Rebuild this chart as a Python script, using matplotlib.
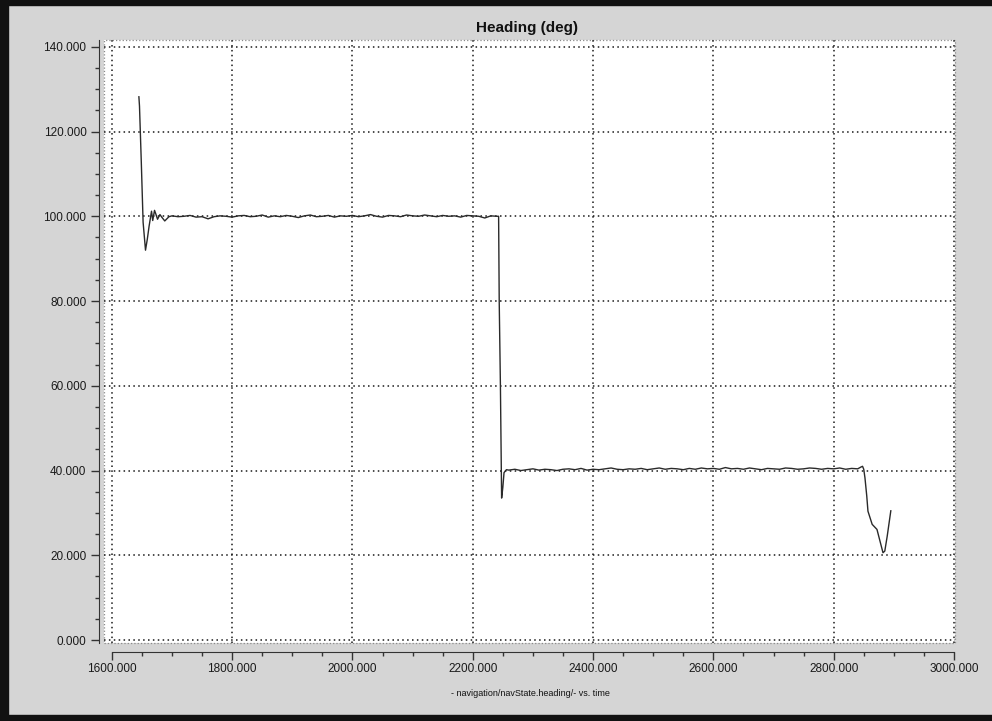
import matplotlib
matplotlib.use("Agg")
import matplotlib.pyplot as plt
from matplotlib.patches import Rectangle
from matplotlib.ticker import MultipleLocator, FormatStrFormatter

plt.rcParams['font.family'] = ['Liberation Sans', 'DejaVu Sans']

# heading samples (deg)
t_start = [1645, 1646, 1649, 1652, 1656, 1659, 1662, 1666, 1668, 1671,
           1673, 1676, 1680, 1683, 1688, 1695]
h_start = [128.2, 126.0, 112.8, 98.6, 92.0, 94.6, 97.7, 101.2, 99.0, 101.4,
           100.6, 99.3, 100.4, 99.8, 98.9, 99.9]

t_plateau1 = list(range(1700, 2250, 10))
h_plateau1 = [100.1, 99.9, 100.0, 100.2, 99.8, 99.9, 99.4, 99.9, 100.1, 100.0,
              99.8, 100.1, 100.2, 99.9, 100.0, 100.3, 99.8, 100.1, 99.9, 100.2,
              100.0, 99.7, 100.1, 100.3, 99.9, 100.0, 100.2, 99.8, 100.1, 100.0,
              100.2, 99.9, 100.1, 100.4, 100.0, 99.8, 100.2, 100.1, 99.9, 100.3,
              100.1, 100.0, 100.3, 100.1, 99.9, 100.2, 100.0, 100.1, 99.8, 100.2,
              100.1, 100.0, 99.6, 100.1, 100.0]

t_turn = [2243, 2244, 2246, 2248, 2250, 2252, 2256]
h_turn = [100.0, 80.0, 60.0, 33.5, 36.0, 39.5, 40.2]

t_plateau2 = list(range(2260, 2850, 10))
h_plateau2 = [40.1, 40.3, 40.0, 40.2, 40.4, 40.1, 40.3, 40.2, 40.0, 40.3,
              40.4, 40.2, 40.5, 40.1, 40.3, 40.2, 40.4, 40.6, 40.3, 40.2,
              40.4, 40.3, 40.5, 40.2, 40.4, 40.6, 40.3, 40.5, 40.4, 40.2,
              40.5, 40.3, 40.6, 40.4, 40.5, 40.3, 40.7, 40.4, 40.5, 40.3,
              40.6, 40.4, 40.2, 40.5, 40.4, 40.3, 40.6, 40.5, 40.3, 40.4,
              40.6, 40.5, 40.3, 40.5, 40.4, 40.6, 40.3, 40.5, 40.4]

t_end = [2845, 2848, 2850, 2852, 2855, 2857, 2864, 2872, 2877, 2882,
         2885, 2889, 2892, 2895]
h_end = [40.8, 41.0, 40.3, 38.3, 34.0, 30.4, 27.3, 26.1, 23.3, 20.6,
         21.0, 24.5, 27.5, 30.5]

time = t_start + t_plateau1 + t_turn + t_plateau2 + t_end
heading = h_start + h_plateau1 + h_turn + h_plateau2 + h_end

fig = plt.figure(figsize=(9.92, 7.21), dpi=100)
fig.patch.set_facecolor('#d5d5d5')

# black scan border (top, left, bottom)
fig.patches.append(Rectangle((0, 1 - 5 / 721), 1, 5 / 721, transform=fig.transFigure,
                             color='#111111', zorder=0))
fig.patches.append(Rectangle((0, 0), 8 / 992, 1, transform=fig.transFigure,
                             color='#111111', zorder=0))
fig.patches.append(Rectangle((0, 0), 1, 6 / 721, transform=fig.transFigure,
                             color='#111111', zorder=0))

ax = fig.add_axes([104 / 992, 1 - 643 / 721, 851 / 992, 603 / 721])
ax.set_facecolor('white')

ax.plot(time, heading, color='#2a2a2a', lw=1.0)

ax.set_xlim(1587, 3001.7)
ax.set_ylim(-0.7, 141.6)

ax.xaxis.set_major_locator(MultipleLocator(200))
ax.xaxis.set_minor_locator(MultipleLocator(50))
ax.yaxis.set_major_locator(MultipleLocator(20))
ax.yaxis.set_minor_locator(MultipleLocator(5))
ax.xaxis.set_major_formatter(FormatStrFormatter('%.3f'))
ax.yaxis.set_major_formatter(FormatStrFormatter('%.3f'))

ax.grid(True, which='major', color='#1a1a1a', linestyle=(0, (1, 2.2)), lw=1.1)

for side in ['top', 'right']:
    ax.spines[side].set_visible(False)
ax.spines['left'].set_position(('outward', 3.6))
ax.spines['bottom'].set_position(('outward', 6.5))
ax.spines['bottom'].set_bounds(1600, 3000)
ax.spines['left'].set_color('#333333')
ax.spines['bottom'].set_color('#333333')

ax.tick_params(axis='both', which='major', direction='out', length=6, width=1,
               color='#333333', labelsize=8.5, labelcolor='#1a1a1a')
ax.tick_params(axis='both', which='minor', direction='out', length=3, width=1,
               color='#333333')
ax.tick_params(axis='y', pad=3)
ax.tick_params(axis='x', pad=2)

# dotted plot-area frame
ax.add_patch(Rectangle((0, 0), 1, 1, transform=ax.transAxes, fill=False,
                       edgecolor='#8a8a8a', linestyle=':', lw=0.9, clip_on=False))

fig.text(526.5 / 992, 1 - 28 / 721, 'Heading (deg)', ha='center', va='center',
         fontsize=11, fontweight='bold', color='#111111')
fig.text(530 / 992, 1 - 693 / 721, '- navigation/navState.heading/- vs. time',
         ha='center', va='center', fontsize=6.5, color='#111111')

fig.savefig('out.png', dpi=100, facecolor=fig.get_facecolor())
